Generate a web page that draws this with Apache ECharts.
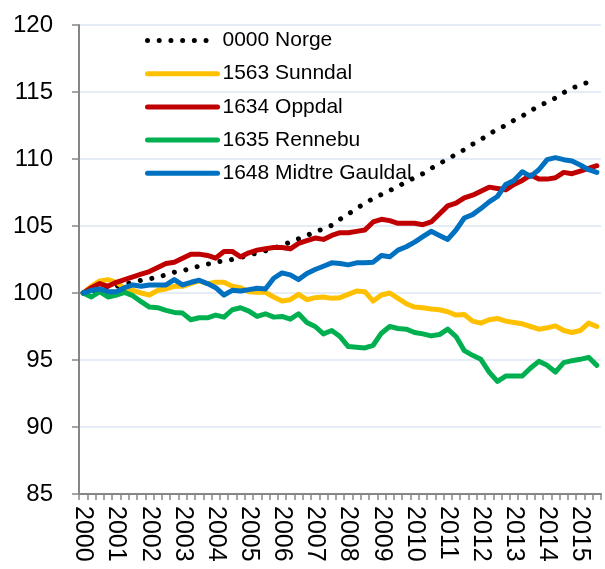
<!DOCTYPE html>
<html>
<head>
<meta http-equiv="content-type" content="text/html; charset=utf-8"/>
<title>Befolkningsutvikling, indeks 2000 = 100</title>
<script src="https://cdn.jsdelivr.net/npm/echarts@6/dist/echarts.min.js"></script>
<style type="text/css">
    html, body { margin: 0; padding: 0; background: #fff; }
    #chart { width: 605px; height: 569px; }
</style>
<script>
    // tick labels (one per year) and quarters shown
    var years = ["2000", "2001", "2002", "2003", "2004", "2005", "2006", "2007",
                 "2008", "2009", "2010", "2011", "2012", "2013", "2014", "2015"];
    var quarterCount = 63;  // 2000K1 .. 2015K3

    var seriesNames = ["0000 Norge", "1563 Sunndal", "1634 Oppdal", "1635 Rennebu", "1648 Midtre Gauldal"];

    var norge = [100.0, 100.1, 100.25, 100.4, 100.5, 100.65, 100.8, 100.95, 101.05, 101.2,
                 101.35, 101.55, 101.65, 101.85, 102.0, 102.15, 102.3, 102.4, 102.5, 102.65,
                 102.8, 103.0, 103.15, 103.35, 103.55, 103.8, 104.05, 104.3, 104.55, 104.8,
                 105.05, 105.5, 105.9, 106.3, 106.7, 107.05, 107.35, 107.65, 107.95, 108.3,
                 108.6, 108.9, 109.3, 109.65, 110.0, 110.35, 110.7, 111.1, 111.45, 111.85,
                 112.25, 112.5, 112.9, 113.2, 113.6, 113.95, 114.25, 114.55, 114.95, 115.3,
                 115.5, 115.75, 115.95];

    var sunndal = [100.0, 100.5, 100.9, 101.0, 100.8, 100.35, 100.2, 100.0, 99.85, 100.2,
                   100.3, 100.5, 100.5, 100.7, 100.9, 100.7, 100.8, 100.8, 100.5, 100.4,
                   100.1, 100.05, 100.05, 99.7, 99.4, 99.5, 99.9, 99.5, 99.65, 99.7,
                   99.6, 99.65, 99.9, 100.15, 100.1, 99.4, 99.85, 100.0, 99.6, 99.2,
                   98.95, 98.9, 98.8, 98.75, 98.6, 98.35, 98.4, 97.9, 97.75, 98.0,
                   98.1, 97.9, 97.8, 97.7, 97.5, 97.3, 97.4, 97.55, 97.2, 97.05,
                   97.2, 97.75, 97.5];

    var oppdal = [100.0, 100.4, 100.7, 100.5, 100.8, 101.0, 101.2, 101.4, 101.6, 101.9,
                  102.2, 102.3, 102.6, 102.9, 102.9, 102.8, 102.6, 103.1, 103.1, 102.7,
                  103.0, 103.2, 103.3, 103.4, 103.4, 103.3, 103.7, 103.9, 104.1, 104.0,
                  104.3, 104.5, 104.5, 104.6, 104.7, 105.3, 105.5, 105.4, 105.2, 105.2,
                  105.2, 105.1, 105.3, 105.9, 106.5, 106.7, 107.1, 107.3, 107.6, 107.9,
                  107.8, 107.7, 108.1, 108.4, 108.8, 108.5, 108.5, 108.6, 109.0, 108.9,
                  109.1, 109.3, 109.5];

    var rennebu = [100.0, 99.7, 100.1, 99.7, 99.85, 100.05, 99.8, 99.35, 98.95, 98.9,
                   98.7, 98.55, 98.5, 98.0, 98.15, 98.15, 98.35, 98.2, 98.75, 98.9,
                   98.65, 98.25, 98.45, 98.2, 98.25, 98.05, 98.45, 97.8, 97.5, 96.95,
                   97.2, 96.75, 96.0, 95.95, 95.9, 96.1, 97.0, 97.5, 97.35, 97.3,
                   97.05, 96.95, 96.8, 96.9, 97.3, 96.75, 95.7, 95.35, 95.05, 94.1,
                   93.4, 93.8, 93.8, 93.8, 94.4, 94.9, 94.6, 94.1, 94.8, 94.95,
                   95.05, 95.2, 94.6];

    var midtreGauldal = [100.0, 100.2, 100.3, 100.1, 100.1, 100.4, 100.6, 100.5, 100.6, 100.6,
                         100.6, 101.0, 100.6, 100.8, 100.95, 100.7, 100.4, 99.85, 100.2, 100.15,
                         100.25, 100.35, 100.3, 101.1, 101.5, 101.35, 101.0, 101.45, 101.75, 102.0,
                         102.25, 102.2, 102.1, 102.25, 102.25, 102.3, 102.8, 102.7, 103.2, 103.45,
                         103.8, 104.2, 104.6, 104.3, 104.0, 104.7, 105.6, 105.85, 106.3, 106.8,
                         107.2, 108.1, 108.4, 109.05, 108.7, 109.2, 109.95, 110.1, 109.95, 109.85,
                         109.55, 109.2, 109.0];

    var yMin = 85, yMax = 120, yStep = 5;

    window.onload = function () {
        drawChart();
    };

    /*
    *  build quarter categories from the year list
    */
    function buildCategories() {
        var cats = [];
        for (var i = 0; i < quarterCount; i++) {
            cats.push(years[Math.floor(i / 4)] + "K" + (i % 4 + 1));
        }
        return cats;
    }

    function lineSeries(name, data, color) {
        return {
            name: name,
            type: 'line',
            data: data,
            showSymbol: false,
            symbol: 'none',
            smooth: false,
            animation: false,
            itemStyle: { color: color },
            lineStyle: { color: color, width: 5, join: 'round', cap: 'round' }
        };
    }

    function drawChart() {
        var font = "'Liberation Sans', Arial, sans-serif";
        var chart = echarts.init(document.getElementById("chart"), null, { renderer: 'canvas' });

        var norgeSeries = lineSeries(seriesNames[0], norge, '#000000');
        norgeSeries.lineStyle.type = [0.01, 11.7];
        norgeSeries.z = 3;

        var option = {
            backgroundColor: '#ffffff',
            animation: false,
            grid: { left: 79, right: 4, top: 25, bottom: 75, containLabel: false },
            legend: {
                orient: 'vertical',
                left: 145,
                top: 30,
                padding: 0,
                itemWidth: 70,
                itemHeight: 5,
                itemGap: 12.2,
                itemStyle: { opacity: 0 },
                lineStyle: { width: 5, cap: 'round' },
                textStyle: { fontFamily: font, fontSize: 21, color: '#000', lineHeight: 20 },
                data: seriesNames
            },
            xAxis: {
                type: 'category',
                data: buildCategories(),
                boundaryGap: true,
                axisLine: { lineStyle: { color: '#868686', width: 2 } },
                axisTick: { show: true, interval: 0, length: 6, lineStyle: { color: '#868686', width: 1.5 } },
                axisLabel: {
                    interval: 3,
                    rotate: -90,
                    margin: 12,
                    fontFamily: font,
                    fontSize: 25,
                    color: '#000',
                    formatter: function (v) { return v.slice(0, 4); }
                },
                splitLine: { show: false }
            },
            yAxis: {
                type: 'value',
                min: yMin,
                max: yMax,
                interval: yStep,
                axisLine: { show: true, lineStyle: { color: '#868686', width: 2 } },
                axisTick: { show: true, length: 7, lineStyle: { color: '#868686', width: 1.5 } },
                axisLabel: { margin: 26, fontFamily: font, fontSize: 24, color: '#000' },
                splitLine: { show: true, lineStyle: { color: '#dce6f2', width: 1.5 } }
            },
            series: [
                norgeSeries,
                lineSeries(seriesNames[1], sunndal, '#FFC000'),
                lineSeries(seriesNames[2], oppdal, '#C00000'),
                lineSeries(seriesNames[3], rennebu, '#00B050'),
                lineSeries(seriesNames[4], midtreGauldal, '#0070C0')
            ]
        };
        chart.setOption(option);
    }
</script>
</head>
<body>
    <div id="chart"></div>
</body>
</html>
